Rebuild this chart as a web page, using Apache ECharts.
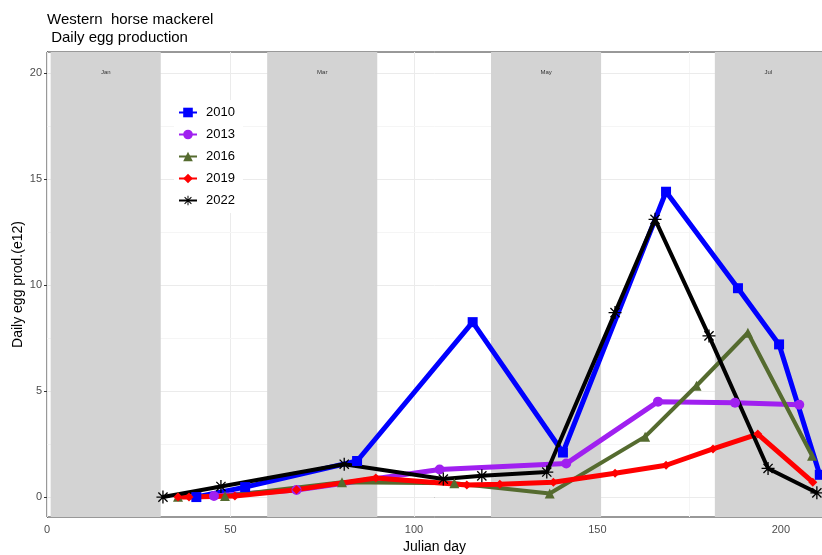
<!DOCTYPE html>
<html>
<head>
<meta charset="utf-8">
<script src="https://cdn.jsdelivr.net/npm/echarts@6/dist/echarts.min.js"></script>
<style>html,body{margin:0;padding:0;background:#fff;}#c{width:822px;height:555px;}</style>
</head>
<body>
<div id="c"></div>
<script>
// ---- data ----
const days2010 = [40.7, 54, 84.5, 116, 140.6, 168.7, 188.3, 199.5, 210.6];
const egg2010  = [0.0, 0.47, 1.7, 8.25, 2.1, 14.4, 9.85, 7.2, 1.05];
const days2013 = [45.5, 68, 107, 141.5, 166.5, 187.5, 205];
const egg2013  = [0.05, 0.33, 1.3, 1.58, 4.5, 4.45, 4.35];
const days2016 = [35.7, 48.5, 80.4, 111, 137, 163, 177, 191, 208.5];
const egg2016  = [0.02, 0.05, 0.7, 0.65, 0.17, 2.85, 5.25, 7.75, 1.95];
const days2019 = [35.7, 38.7, 51.2, 68, 89.6, 114.4, 123.4, 138, 154.8, 168.7, 181.5, 193.7, 208.7];
const egg2019  = [0.0, 0.0, 0.05, 0.35, 0.9, 0.57, 0.6, 0.7, 1.12, 1.5, 2.27, 2.97, 0.7];
const days2022 = [31.6, 47.4, 81, 108, 118.5, 136.2, 154.8, 165.7, 180.4, 196.5, 209.8];
const egg2022  = [0.0, 0.5, 1.55, 0.85, 1.0, 1.18, 8.7, 13.1, 7.6, 1.35, 0.2];
const monthNames = ['Jan', 'Mar', 'May', 'Jul'];
const monthStart = [1, 60, 121, 182];
const monthEnd   = [31, 90, 151, 212];
const xTicks = [0, 50, 100, 150, 200];
const yTicks = [0, 5, 10, 15, 20];
const xMinor = [25, 75, 125, 175];
const yMinor = [2.5, 7.5, 12.5, 17.5];

const pair = (d, v) => d.map((x, i) => [x, v[i]]);
const star = 'path://M-10,-1L10,-1L10,1L-10,1Z M-1,-10L1,-10L1,10L-1,10Z M-6.36,-7.78L7.78,6.36L6.36,7.78L-7.78,-6.36Z M6.36,-7.78L7.78,-6.36L-6.36,7.78L-7.78,6.36Z';

function lineSeries(name, d, v, color, symbol, size, width) {
  return {
    name, type: 'line', data: pair(d, v), z: 5,
    symbol, symbolSize: size, showSymbol: true,
    lineStyle: { color, width },
    itemStyle: { color },
    emphasis: { disabled: true },
    animation: false
  };
}

const gridLines = [];
xTicks.forEach(x => gridLines.push({ xAxis: x, lineStyle: { color: '#ebebeb', width: 1, type: 'solid' } }));
xMinor.forEach(x => gridLines.push({ xAxis: x, lineStyle: { color: '#f5f5f5', width: 1, type: 'solid' } }));
yTicks.forEach(y => gridLines.push({ yAxis: y, lineStyle: { color: '#ebebeb', width: 1, type: 'solid' } }));
yMinor.forEach(y => gridLines.push({ yAxis: y, lineStyle: { color: '#f5f5f5', width: 1, type: 'solid' } }));

const bands = monthNames.map((m, i) => [
  { xAxis: monthStart[i], name: m },
  { xAxis: Math.min(monthEnd[i], 211.2) }
]);

const FONT = 'Liberation Sans, Arial';
const chart = echarts.init(document.getElementById('c'), null, { renderer: 'canvas' });
chart.setOption({
  animation: false,
  backgroundColor: '#fff',
  title: {
    text: 'Western  horse mackerel\n Daily egg production',
    left: 42, top: 6,
    textStyle: { fontFamily: FONT, fontSize: 15, fontWeight: 'normal', color: '#000', lineHeight: 18 }
  },
  legend: {
    orient: 'vertical', left: 174, top: 100,
    itemGap: 9, itemWidth: 18, itemHeight: 12,
    backgroundColor: '#fff', padding: [6, 8, 6, 4],
    textStyle: { fontFamily: FONT, fontSize: 13, color: '#000', padding: [0, 0, 0, 4] },
    data: ['2010', '2013', '2016', '2019', '2022']
  },
  grid: { left: 47, right: 0, top: 52, bottom: 38, show: true, borderColor: '#333', borderWidth: 1, backgroundColor: 'transparent', outerBoundsMode: 'none', containLabel: false },
  xAxis: {
    type: 'value', min: 0, max: 211.2, interval: 50,
    name: 'Julian day', nameLocation: 'middle', nameGap: 22,
    nameTextStyle: { fontFamily: FONT, fontSize: 14, color: '#000' },
    axisLine: { show: true, lineStyle: { color: '#333' } },
    axisTick: { show: true, length: 3, lineStyle: { color: '#333' } },
    axisLabel: { fontFamily: FONT, fontSize: 11, color: '#4d4d4d', margin: 7, showMaxLabel: false },
    splitLine: { show: false }
  },
  yAxis: {
    type: 'value', min: -0.94, max: 20.99,
    name: 'Daily egg prod.(e12)', nameLocation: 'middle', nameGap: 22, nameRotate: 90, nameMoveOverlap: false,
    nameTextStyle: { fontFamily: FONT, fontSize: 14, color: '#000' },
    axisLine: { show: true, lineStyle: { color: '#333' } },
    axisTick: { show: true, length: 3, customValues: yTicks, lineStyle: { color: '#333' } },
    axisLabel: { fontFamily: FONT, fontSize: 11, color: '#4d4d4d', margin: 5, customValues: yTicks },
    splitLine: { show: false }
  },
  series: [
    {
      type: 'line', data: [], z: 1, silent: true,
      markLine: { z: 1, silent: true, symbol: 'none', label: { show: false }, animation: false, data: gridLines }
    },
    {
      type: 'line', data: [], z: 2, silent: true,
      markArea: {
        z: 2, silent: true, animation: false,
        itemStyle: { color: '#d3d3d3' },
        label: { show: true, position: 'insideTop', distance: 17, fontSize: 6, color: '#333', fontFamily: FONT },
        data: bands
      }
    },
    lineSeries('2010', days2010, egg2010, '#0000ff', 'rect', 10, 5),
    lineSeries('2013', days2013, egg2013, '#a020f0', 'circle', 10, 5),
    lineSeries('2016', days2016, egg2016, '#556b2f', 'triangle', 10, 4),
    lineSeries('2019', days2019, egg2019, '#ff0000', 'diamond', 9, 5),
    lineSeries('2022', days2022, egg2022, '#000000', star, 13, 4)
  ]
});
</script>
</body>
</html>
